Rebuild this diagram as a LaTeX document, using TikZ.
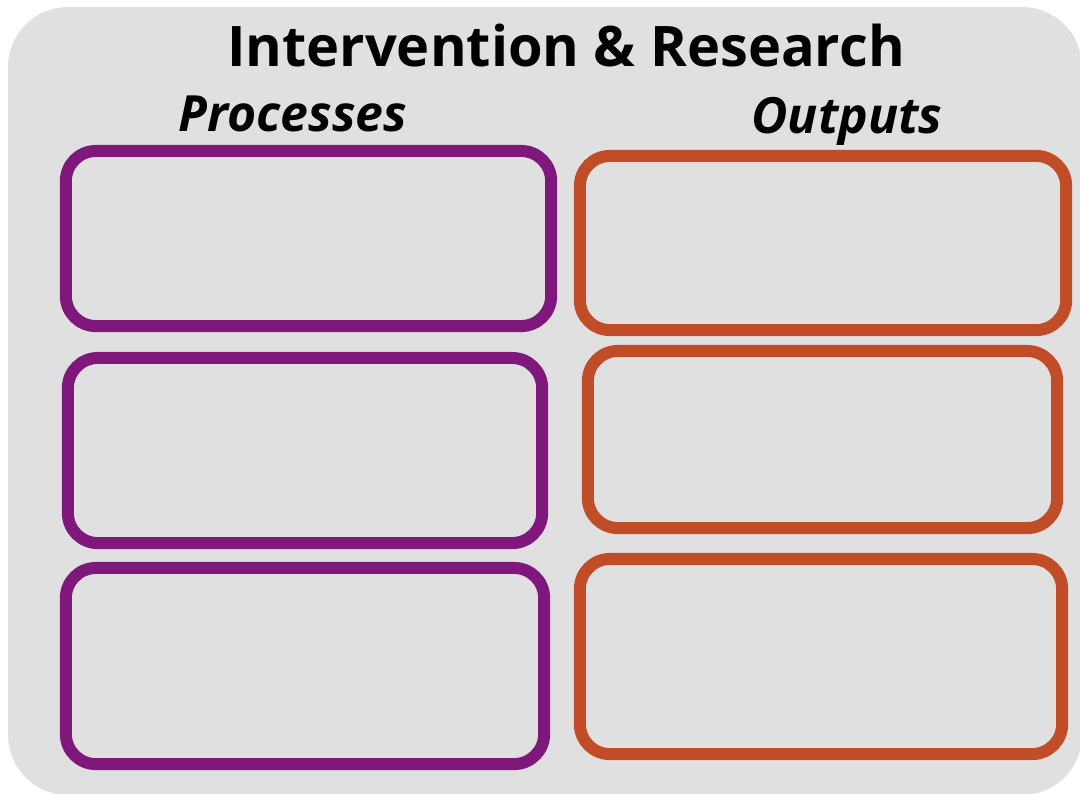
\documentclass[tikz,border=0pt]{standalone}
\usepackage{fontspec}
\setmainfont{Open Sans}
\usepackage{tikz}
\usetikzlibrary{positioning}
\definecolor{irPurple}{RGB}{126, 25, 123}
\definecolor{irOrange}{RGB}{192, 76, 40}
\definecolor{irGray}{RGB}{224, 224, 224}

\begin{document}
\begin{tikzpicture}[
    x=0.01cm, y=-0.01cm,
    slot/.style={
        rectangle,
        draw=#1,
        line width=0.12cm,
        rounded corners=0.3cm,
        inner sep=0pt
    },
    heading/.style={font=\fontsize{14.2}{16}\selectfont\bfseries\itshape}
]
    \useasboundingbox (0,0) rectangle (1080,793);
    % Background
    \fill[irGray, rounded corners=0.6cm] (8,7) rectangle (1082,795);

    % Titles
    \node[font=\fontsize{15.9}{18}\selectfont\bfseries] (title) at (566,46) {Intervention \& Research};
    \node[heading] (proc) at (293,114) {Processes};
    \node[heading] (outp) at (847,121) {Outputs};

    % Processes
    \node[slot=irPurple, minimum width=4.85cm, minimum height=1.75cm] (p1) at (308.5,238.5) {};
    \node[slot=irPurple, minimum width=4.74cm, minimum height=1.85cm] (p2) at (305,450.5) {};
    \node[slot=irPurple, minimum width=4.78cm, minimum height=1.96cm] (p3) at (305,666) {};

    % Outputs
    \node[slot=irOrange, minimum width=4.86cm, minimum height=1.74cm] (o1) at (823,243) {};
    \node[slot=irOrange, minimum width=4.69cm, minimum height=1.77cm] (o2) at (822.5,439.5) {};
    \node[slot=irOrange, minimum width=4.82cm, minimum height=1.95cm] (o3) at (821,656.5) {};

\end{tikzpicture}
\end{document}
